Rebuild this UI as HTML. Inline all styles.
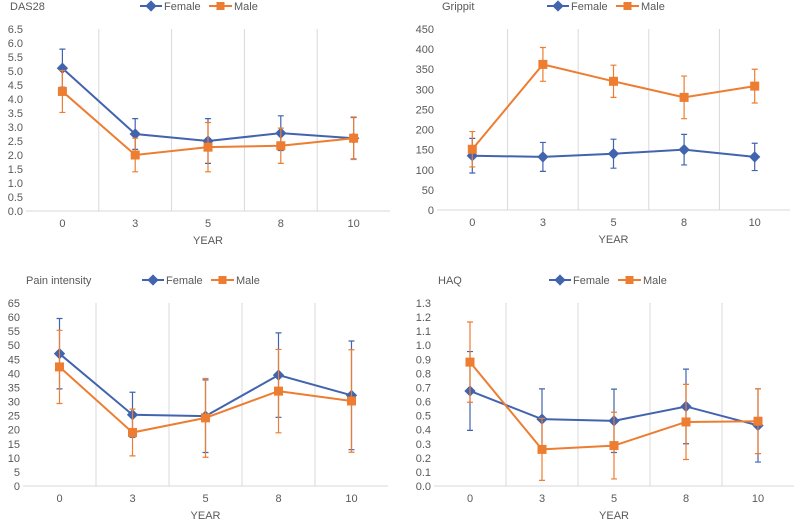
<!DOCTYPE html>
<html><head><meta charset="utf-8"><style>
body{margin:0;background:#fff;width:798px;height:523px;overflow:hidden;font-family:"Liberation Sans",sans-serif}
svg text{font-family:"Liberation Sans",sans-serif;fill:#595959}
</style></head><body>
<svg id="chart" width="798" height="523" xmlns="http://www.w3.org/2000/svg"></svg>
<script>
const categories = ["0","3","5","8","10"];
const dasFemale = [5.1,2.75,2.5,2.78,2.6];
const dasFemaleErr = [0.68,0.55,0.8,0.62,0.74];
const dasMale = [4.27,2.0,2.28,2.33,2.6];
const dasMaleErr = [0.75,0.6,0.88,0.63,0.76];
const gripFemale = [135,132,140,150,132];
const gripFemaleErr = [43,36,36,38,34];
const gripMale = [151,362,320,280,308];
const gripMaleErr = [44,42,40,53,42];
const painFemale = [47,25.3,24.8,39.4,32.2];
const painFemaleErr = [12.5,8,12.9,15,19.3];
const painMale = [42.3,19,24.2,33.7,30.2];
const painMaleErr = [13,8.3,14,14.8,18.2];
const haqFemale = [0.675,0.475,0.463,0.565,0.43];
const haqFemaleErr = [0.28,0.215,0.225,0.265,0.26];
const haqMale = [0.88,0.26,0.287,0.455,0.46];
const haqMaleErr = [0.285,0.22,0.237,0.267,0.23];
const dasTicks = [0,0.5,1,1.5,2,2.5,3,3.5,4,4.5,5,5.5,6,6.5];
const gripTicks = [0,50,100,150,200,250,300,350,400,450];
const painTicks = [0,5,10,15,20,25,30,35,40,45,50,55,60,65];
const haqTicks = [0,0.1,0.2,0.3,0.4,0.5,0.6,0.7,0.8,0.9,1,1.1,1.2,1.3];

const NS="http://www.w3.org/2000/svg";
const svg=document.getElementById('chart');
function mk(tag,attrs,parent){const e=document.createElementNS(NS,tag);for(const k in attrs)e.setAttribute(k,attrs[k]);(parent||svg).appendChild(e);return e;}
const BLUE="#4264AE",ORANGE="#ED7D31";

function panel(cfg){
  const g=mk('g',{});
  
  
  const {L,R,T,B,max,ticks,dec}=cfg;
  const n=categories.length, cw=(R-L)/n;
  const xS=i=>L+cw*(i+0.5);
  const yS=v=>B-(v/max)*(B-T);
  for(let i=1;i<n;i++){
    const gl=mk('line',{x1:L+cw*i,x2:L+cw*i,y1:T,y2:B,stroke:'#d9d9d9','stroke-width':1},g);
    
    
  }
  const ax=mk('line',{x1:L,x2:R,y1:B,y2:B,stroke:'#d9d9d9','stroke-width':1},g);
  
  
  ticks.forEach(t=>{
    const tx=mk('text',{x:L-3,y:yS(t)+4,'text-anchor':'end','font-size':11},g);
    tx.textContent=t.toFixed(dec);
    
    
  });
  categories.forEach((c,i)=>{
    const tx=mk('text',{x:xS(i),y:B+16,'text-anchor':'middle','font-size':11},g);
    tx.textContent=c;
    
    
  });
  const xt=mk('text',{x:(L+R)/2,y:B+33,'text-anchor':'middle','font-size':11},g);
  xt.textContent='YEAR';
  
  
  const tt=mk('text',{x:cfg.tx,y:cfg.ty,'font-size':11},g);
  tt.textContent=cfg.title;
  
  
  const lx=cfg.lx, ly=cfg.ty-4;
  const l1=mk('line',{x1:lx,x2:lx+22,y1:ly,y2:ly,stroke:BLUE,'stroke-width':2},g);
  
  
  const d1=mk('rect',{x:lx+7,y:ly-4,width:8,height:8,fill:BLUE,transform:`rotate(45 ${lx+11} ${ly})`},g);
  
  
  const t1=mk('text',{x:lx+24,y:ly+4,'font-size':11},g);t1.textContent='Female';
  
  
  const l2=mk('line',{x1:lx+69,x2:lx+92,y1:ly,y2:ly,stroke:ORANGE,'stroke-width':2},g);
  
  
  const d2=mk('rect',{x:lx+76.5,y:ly-4,width:8,height:8,fill:ORANGE},g);
  
  
  const t2=mk('text',{x:lx+94,y:ly+4,'font-size':11},g);t2.textContent='Male';
  
  
  function series(vals,errs,color,shape,nm){
    vals.forEach((v,i)=>{
      const x=xS(i),y1=yS(v+errs[i]),y2=yS(v-errs[i]);
      const eb=mk('path',{d:`M${x},${y1}V${y2}M${x-3},${y1}H${x+3}M${x-3},${y2}H${x+3}`,stroke:color,'stroke-width':1.2,fill:'none'},g);
      
      
    });
    const pl=mk('polyline',{points:vals.map((v,i)=>xS(i)+','+yS(v)).join(' '),stroke:color,'stroke-width':2,fill:'none'},g);
    
    
    vals.forEach((v,i)=>{
      const x=xS(i),y=yS(v);
      const m = shape==='d'
        ? mk('rect',{x:x-4,y:y-4,width:8,height:8,fill:color,transform:`rotate(45 ${x} ${y})`},g)
        : mk('rect',{x:x-4.5,y:y-4.5,width:9,height:9,fill:color},g);
      
      
    });
  }
  series(cfg.f,cfg.fe,BLUE,'d','female');
  series(cfg.m,cfg.me,ORANGE,'s','male');
}
panel({name:'das28',title:'DAS28',L:26,R:390,T:29,B:211,max:6.5,ticks:dasTicks,dec:1,tx:10,ty:10,lx:140,f:dasFemale,fe:dasFemaleErr,m:dasMale,me:dasMaleErr});
panel({name:'grippit',title:'Grippit',L:437,R:790,T:29,B:210,max:450,ticks:gripTicks,dec:0,tx:442,ty:10,lx:547,f:gripFemale,fe:gripFemaleErr,m:gripMale,me:gripMaleErr});
panel({name:'pain',title:'Pain intensity',L:23,R:388,T:303,B:486,max:65,ticks:painTicks,dec:0,tx:26,ty:284,lx:142,f:painFemale,fe:painFemaleErr,m:painMale,me:painMaleErr});
panel({name:'haq',title:'HAQ',L:434,R:794,T:303,B:486,max:1.3,ticks:haqTicks,dec:1,tx:438,ty:284,lx:549,f:haqFemale,fe:haqFemaleErr,m:haqMale,me:haqMaleErr});
</script>
</body></html>
